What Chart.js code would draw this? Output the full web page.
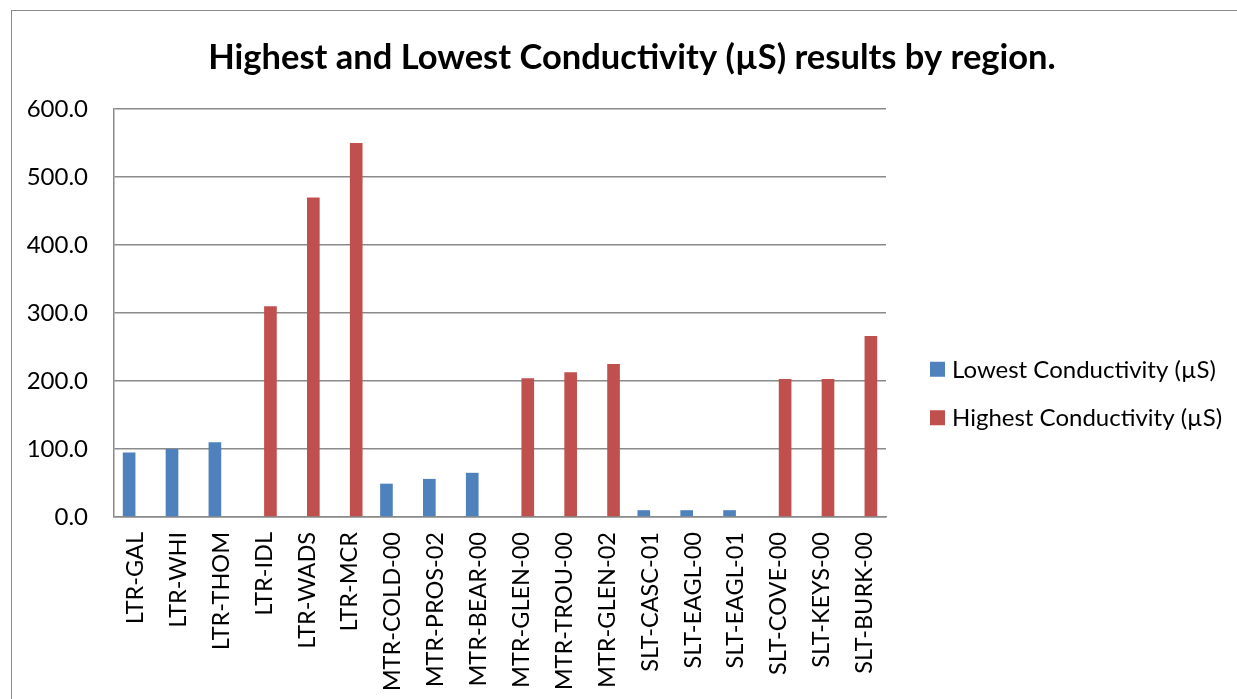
<!DOCTYPE html>
<html>
<head>
<meta charset="utf-8">
<script src="https://cdn.jsdelivr.net/npm/chart.js@4"></script>
<style>
    html, body { margin: 0; padding: 0; background: #fff; overflow: hidden; }
    .chart-box {
        position: absolute; left: 11px; top: 10px;
        width: 1240px; height: 765px;
        border: 1px solid #8a8a8a;
    }
</style>
</head>
<body>
<div class="chart-box">
    <canvas id="stats" width="1240" height="765"></canvas>
</div>

<script>
    var regions = ['LTR-GAL', 'LTR-WHI', 'LTR-THOM', 'LTR-IDL', 'LTR-WADS', 'LTR-MCR',
        'MTR-COLD-00', 'MTR-PROS-02', 'MTR-BEAR-00', 'MTR-GLEN-00', 'MTR-TROU-00', 'MTR-GLEN-02',
        'SLT-CASC-01', 'SLT-EAGL-00', 'SLT-EAGL-01', 'SLT-COVE-00', 'SLT-KEYS-00', 'SLT-BURK-00'];
    var lowest = [95, 100, 110, null, null, null, 49, 56, 65, null, null, null, 10, 10, 10, null, null, null];
    var highest = [null, null, null, 310, 470, 550, null, null, null, 204, 213, 225, null, null, null, 203, 203, 266];
    var yTicks = [0, 100, 200, 300, 400, 500, 600];

    var font = 'Lato, "Open Sans", sans-serif';

    // title centred on the whole chart, not on the area left of the legend
    var centreTitle = {
        id: 'centreTitle',
        afterLayout: function (chart) {
            var t = chart.titleBlock;
            t.left = 0; t.right = chart.width; t.width = chart.width;
        }
    };

    // excel style legend: right of the plot, centred on the chart height
    var sideLegend = {
        id: 'sideLegend',
        afterDraw: function (chart) {
            var c = chart.ctx, area = chart.chartArea;
            var x = area.right + 44, rowGap = 48.5;
            var sets = chart.data.datasets;
            var y = chart.height / 2 - rowGap * (sets.length - 1) / 2;
            c.save();
            c.font = '24px ' + font;
            c.textBaseline = 'middle';
            c.fillStyle = '#000';
            sets.forEach(function (ds, i) {
                var yy = y + i * rowGap;
                c.fillStyle = ds.backgroundColor;
                c.fillRect(x, yy - 7.5, 15, 15);
                c.fillStyle = '#000';
                c.fillText(ds.label, x + 22, yy + 1);
            });
            c.restore();
        }
    };

    var ctx = document.getElementById('stats').getContext('2d');
    new Chart(ctx, {
        type: 'bar',
        data: {
            labels: regions,
            datasets: [
                {label: 'Lowest Conductivity (µS)', data: lowest, backgroundColor: '#4F81BD'},
                {label: 'Highest Conductivity (µS)', data: highest, backgroundColor: '#C0504D'}
            ]
        },
        options: {
            responsive: false,
            animation: false,
            layout: {padding: {left: 0, right: 366, top: 0, bottom: 0}},
            datasets: {bar: {categoryPercentage: 0.59, barPercentage: 1.0}},
            plugins: {
                title: {
                    display: true,
                    text: 'Highest and Lowest Conductivity (µS) results by region.',
                    color: '#000',
                    font: {family: font, size: 34.5, weight: 'bold'},
                    padding: {top: 26, bottom: 30.6}
                },
                legend: {display: false},
                tooltip: {enabled: false}
            },
            scales: {
                x: {
                    grid: {display: false, drawTicks: false},
                    border: {color: '#8a8a8a', width: 1.5},
                    ticks: {
                        color: '#000', font: {family: font, size: 23.5},
                        maxRotation: 90, minRotation: 90, padding: 15
                    },
                    afterFit: function (s) { s.height = 259; }
                },
                y: {
                    min: 0, max: 600,
                    afterBuildTicks: function (s) { s.ticks = yTicks.map(function (v) { return {value: v}; }); },
                    grid: {color: '#8a8a8a', lineWidth: 1.5, drawTicks: false},
                    border: {color: '#8a8a8a', width: 1.5},
                    ticks: {
                        color: '#000', font: {family: font, size: 24}, padding: 26,
                        callback: function (v) { return v.toFixed(1); }
                    },
                    afterFit: function (s) { s.width = 102; }
                }
            }
        },
        plugins: [centreTitle, sideLegend]
    });
</script>
</body>
</html>
